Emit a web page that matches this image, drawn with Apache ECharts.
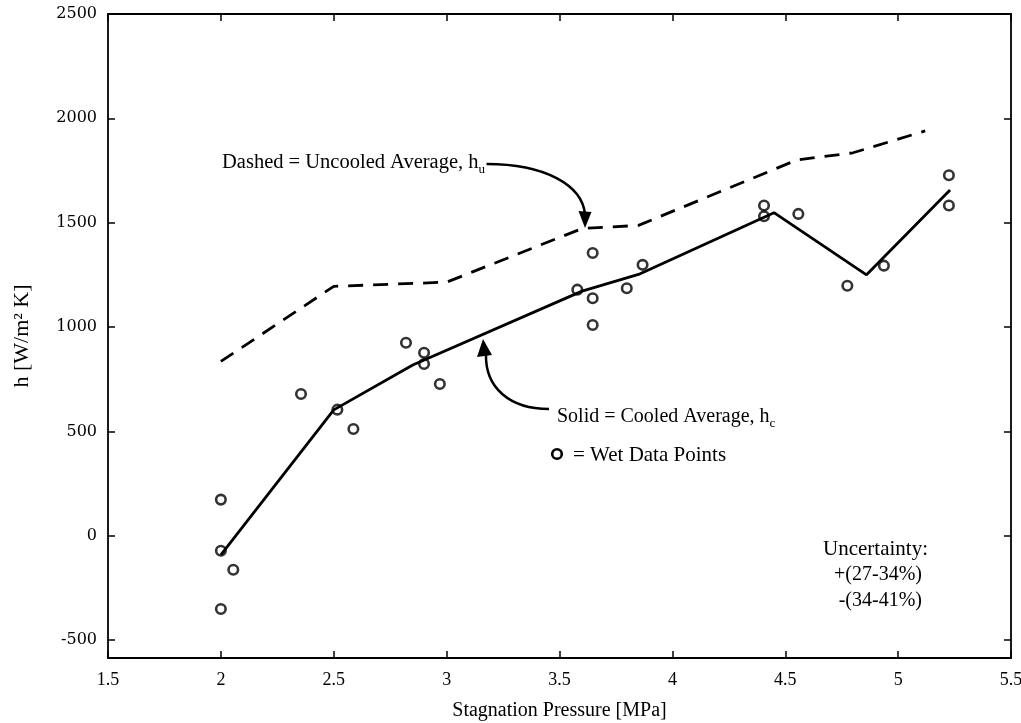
<!DOCTYPE html>
<html>
<head>
<meta charset="utf-8">
<script src="https://cdn.jsdelivr.net/npm/echarts@6/dist/echarts.min.js"></script>
<style>
html,body{margin:0;padding:0;background:#fff;}
#c{width:1021px;height:723px;}
</style>
</head>
<body>
<div id="c"></div>
<script>
// ---- data ----
const yTicks = [-500, 0, 500, 1000, 1500, 2000, 2500];
const wetX = [2.0, 2.0, 2.055, 2.0, 2.355, 2.516, 2.587, 2.82, 2.90, 2.90, 2.97, 3.579, 3.647, 3.647, 3.647, 3.798, 3.868, 4.406, 4.406, 4.558, 4.775, 4.937, 5.225, 5.225];
const wetY = [173, -72, -163, -351, 679, 604, 511, 925, 877, 823, 727, 1179, 1355, 1138, 1010, 1186, 1298, 1582, 1531, 1542, 1198, 1294, 1727, 1582];
const cooledX = [2.0, 2.5, 2.85, 3.6, 3.85, 4.45, 4.86, 5.23];
const cooledY = [-92, 603, 818, 1172, 1252, 1548, 1250, 1657];
const uncooledX = [2.0, 2.5, 3.0, 3.6, 3.85, 4.55, 4.8, 5.12];
const uncooledY = [835, 1195, 1215, 1472, 1487, 1800, 1835, 1940];

const zip = (a, b) => a.map((v, i) => [v, b[i]]);

const serif = '"Liberation Serif", "Times New Roman", serif';

function textWidth(t, size, fam) {
  const c = document.createElement('canvas').getContext('2d');
  c.font = size + 'px ' + fam;
  return c.measureText(t).width;
}

const chart = echarts.init(document.getElementById('c'), null, {renderer: 'canvas'});

const t1 = 'Dashed = Uncooled Average, h';
const t2 = 'Solid = Cooled Average, h';
const f1 = 20.5, f2 = 20;
const w1 = textWidth(t1, f1, serif);
const w2 = textWidth(t2, f2, serif);

const axisCommon = {
  axisLine: {show: true, onZero: false, lineStyle: {color: '#000', width: 1.8}},
  axisTick: {show: true, inside: true, length: 7, lineStyle: {color: '#000', width: 1.5}},
  splitLine: {show: false}
};

const option = {
  backgroundColor: '#fff',
  animation: false,
  grid: {left: 108, right: 10, top: 14, bottom: 65, containLabel: false, outerBoundsMode: 'none'},
  xAxis: [
    Object.assign({}, axisCommon, {
      type: 'value', position: 'bottom', min: 1.5, max: 5.5, interval: 0.5,
      axisLabel: {color: '#000', fontFamily: serif, fontSize: 18, margin: 13},
      name: 'Stagnation Pressure [MPa]', nameLocation: 'middle', nameGap: 43,
      nameTextStyle: {color: '#000', fontFamily: serif, fontSize: 20}
    }),
    Object.assign({}, axisCommon, {
      type: 'value', position: 'top', min: 1.5, max: 5.5, interval: 0.5,
      axisLabel: {show: false}
    })
  ],
  yAxis: [
    Object.assign({}, axisCommon, {
      type: 'value', position: 'left', min: -586, max: 2500,
      axisTick: Object.assign({}, axisCommon.axisTick, {customValues: yTicks}),
      axisLabel: {color: '#000', fontFamily: '"DejaVu Serif", serif', fontSize: 16, margin: 11,
        customValues: yTicks, formatter: v => String(v)},
      name: 'h [W/m² K]', nameLocation: 'middle', nameGap: 75, nameRotate: 90,
      nameTextStyle: {color: '#000', fontFamily: serif, fontSize: 22}
    }),
    Object.assign({}, axisCommon, {
      type: 'value', position: 'right', min: -586, max: 2500,
      axisTick: Object.assign({}, axisCommon.axisTick, {customValues: yTicks}),
      axisLabel: {show: false, customValues: yTicks}
    })
  ],
  series: [
    {
      type: 'line', xAxisIndex: 0, yAxisIndex: 0, data: zip(uncooledX, uncooledY),
      symbol: 'none', lineStyle: {color: '#000', width: 2.8, type: [15, 10]}, z: 2
    },
    {
      type: 'line', xAxisIndex: 0, yAxisIndex: 0, data: zip(cooledX, cooledY),
      symbol: 'none', lineStyle: {color: '#000', width: 2.8}, z: 2
    },
    {
      type: 'scatter', xAxisIndex: 0, yAxisIndex: 0, data: zip(wetX, wetY),
      symbol: 'circle', symbolSize: 9.5,
      itemStyle: {color: 'rgba(0,0,0,0)', borderColor: '#000', borderWidth: 2.6}, z: 3
    }
  ],
  graphic: [
    // Dashed annotation
    {type: 'text', x: 222, y: 163, style: {text: t1, font: f1 + 'px ' + serif, fill: '#000', verticalAlign: 'middle'}},
    {type: 'text', x: 222 + w1, y: 170, style: {text: 'u', font: '13px ' + serif, fill: '#000', verticalAlign: 'middle'}},
    {type: 'bezierCurve', shape: {x1: 222 + w1 + 8, y1: 164, cpx1: 545, cpy1: 164, cpx2: 582, cpy2: 185, x2: 585, y2: 214},
      style: {stroke: '#000', lineWidth: 2.5, fill: null}},
    {type: 'polygon', shape: {points: [[585, 228], [578.5, 211], [591.5, 212]]}, style: {fill: '#000'}},
    // Solid annotation
    {type: 'text', x: 557, y: 417, style: {text: t2, font: f2 + 'px ' + serif, fill: '#000', verticalAlign: 'middle'}},
    {type: 'text', x: 557 + w2, y: 424, style: {text: 'c', font: '13px ' + serif, fill: '#000', verticalAlign: 'middle'}},
    {type: 'bezierCurve', shape: {x1: 549, y1: 409, cpx1: 510, cpy1: 409, cpx2: 485, cpy2: 388, x2: 486, y2: 354},
      style: {stroke: '#000', lineWidth: 2.5, fill: null}},
    {type: 'polygon', shape: {points: [[483, 339], [477, 357], [492, 355]]}, style: {fill: '#000'}},
    // Wet data legend
    {type: 'circle', shape: {cx: 557, cy: 454, r: 4.8}, style: {fill: null, stroke: '#000', lineWidth: 2.6}},
    {type: 'text', x: 573, y: 455, style: {text: '= Wet Data Points', font: '21px ' + serif, fill: '#000', verticalAlign: 'middle'}},
    // Uncertainty
    {type: 'text', x: 928, y: 549, style: {text: 'Uncertainty:', font: '21px ' + serif, fill: '#000', verticalAlign: 'middle', align: 'right'}},
    {type: 'text', x: 922, y: 575, style: {text: '+(27-34%)', font: '20px ' + serif, fill: '#000', verticalAlign: 'middle', align: 'right'}},
    {type: 'text', x: 922, y: 601, style: {text: '-(34-41%)', font: '20px ' + serif, fill: '#000', verticalAlign: 'middle', align: 'right'}}
  ]
};

chart.setOption(option);
</script>
</body>
</html>
